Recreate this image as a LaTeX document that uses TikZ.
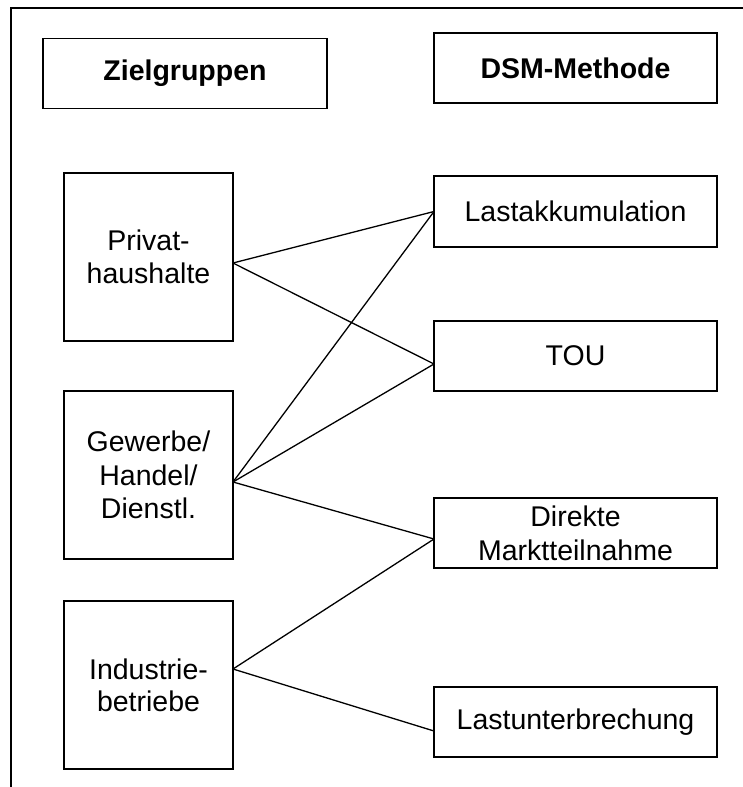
\documentclass[tikz,border=0pt]{standalone}
\usepackage{fontspec}
\setmainfont{Liberation Sans}
\begin{document}
\begin{tikzpicture}[x=1pt,y=-1pt,
  box/.style={draw,line width=1.6pt,inner sep=0pt,outer sep=0pt,align=center,
    font=\fontsize{28.5}{33}\selectfont},
  head/.style={box,font=\fontsize{28.5}{33}\selectfont\bfseries},
  group/.style={box,minimum width=169pt,minimum height=168pt},
  method/.style={box,minimum width=283pt,minimum height=70pt},
  link/.style={line width=1.3pt},
  frame/.style={line width=1.6pt}]
\useasboundingbox (0,0) rectangle (743,787);

% outer frame (top and left edges)
\coordinate (fTL) at (11,8);
\coordinate (fTR) at (743,8);
\coordinate (fBL) at (11,787);
\draw[frame] (fTR) -- (fTL) -- (fBL);

% column headers
\node[head,minimum width=284pt,minimum height=70pt] (zg) at (185,73.5) {Zielgruppen};
\node[head,minimum width=283pt,minimum height=70pt] (dsm) at (575.5,68) {DSM-Methode};

% target groups
\node[group] (priv) at (148.5,257) {Privat-\\haushalte};
\node[group] (gew) at (148.5,475) {Gewerbe/\\[0.5pt]Handel/\\[0.5pt]Dienstl.};
\node[group] (ind) at (148.5,685) {Industrie-\\[-1pt]betriebe};

% DSM methods
\node[method,minimum height=71pt] (la) at (575.5,211.5) {Lastakkumulation};
\node[method] (tou) at (575.5,356) {TOU};
\node[method] (dm) at (575.5,533) {Direkte\\[1pt]Marktteilnahme};
\node[method] (lu) at (575.5,722) {Lastunterbrechung};

% connection ports
\coordinate (privP) at ([yshift=-6pt]priv.east);
\coordinate (gewP) at ([yshift=-7pt]gew.east);
\coordinate (indP) at ([yshift=16pt]ind.east);
\coordinate (laP) at (la.west);
\coordinate (touP) at ([yshift=-8pt]tou.west);
\coordinate (dmP) at ([yshift=-6pt]dm.west);
\coordinate (luP) at ([yshift=-9pt]lu.west);

% assignments
\draw[link] (privP) -- (laP);
\draw[link] (privP) -- (touP);
\draw[link] (gewP) -- (laP);
\draw[link] (gewP) -- (touP);
\draw[link] (gewP) -- (dmP);
\draw[link] (indP) -- (dmP);
\draw[link] (indP) -- (luP);
\end{tikzpicture}
\end{document}
